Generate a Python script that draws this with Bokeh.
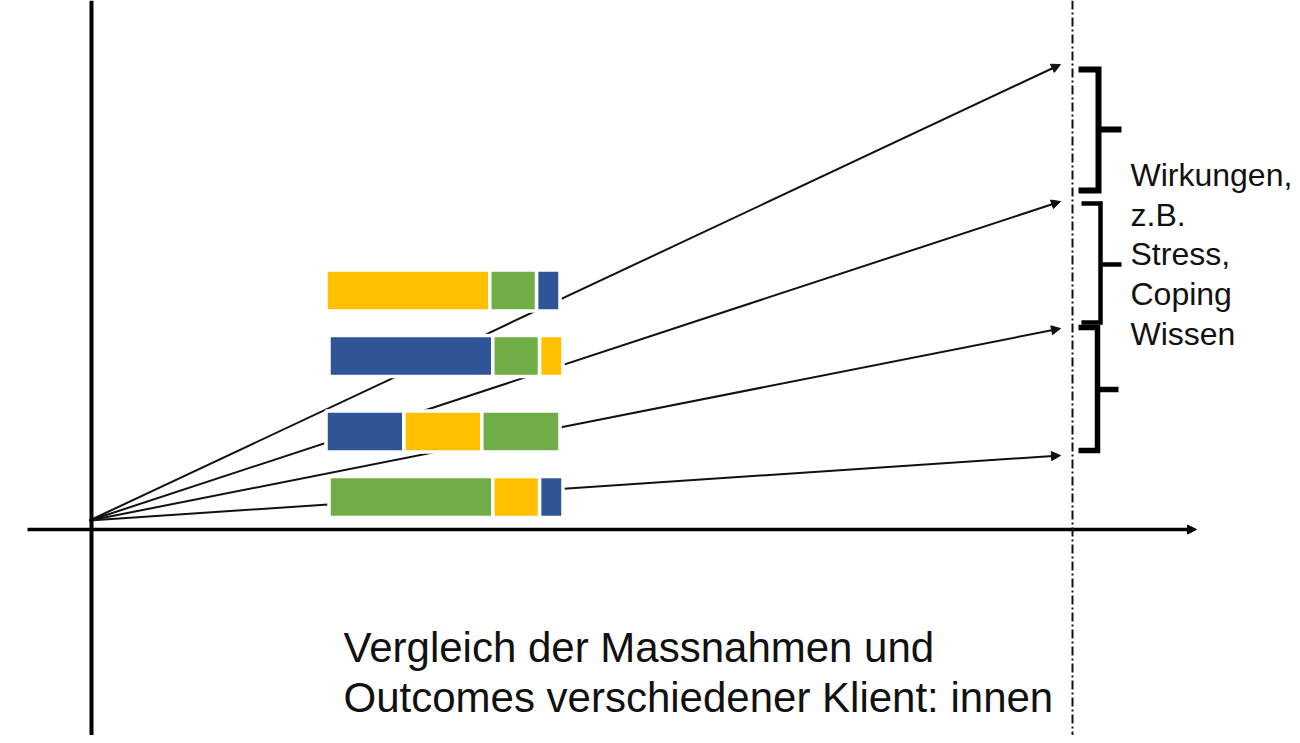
from bokeh.plotting import figure
from bokeh.models import Range1d, Arrow, NormalHead, Span, ColumnDataSource
from bokeh.core.properties import value
from bokeh.embed import file_html
from bokeh.resources import INLINE

# ---------------- data ----------------
clients = ["Klient:in 1", "Klient:in 2", "Klient:in 3", "Klient:in 4"]
measure_names = ["Massnahme A", "Massnahme B", "Massnahme C"]
measure_colors = ["#FFC000", "#70AD47", "#2F5597"]

# order of measures in each client's bar (index into measure_names) and their shares (%)
client1_order = [0, 1, 2]
client1_values = [70, 20, 10]
client2_order = [2, 1, 0]
client2_values = [70, 20, 10]
client3_order = [2, 0, 1]
client3_values = [33.3, 33.3, 33.4]
client4_order = [1, 0, 2]
client4_values = [70, 20, 10]

# outcome level reached by each arrow (screen-like y units, top = small)
outcome_levels = [64, 201, 328, 455]

right_label_lines = ["Wirkungen,", "z.B.", "Stress,", "Coping", "Wissen"]
bottom_label_lines = ["Vergleich der Massnahmen und", "Outcomes verschiedener Klient: innen"]

# ---------------- layout ----------------
W, H = 1292, 735
FONT = "Liberation Sans"
PX_PER_PCT = 2.34
bar_x0 = [325.5, 328.5, 325.5, 328.5]
bar_yc = [290, 355.5, 431, 496.5]
bar_h = 41
origin = (89, 520)
arrow_tip_x = 1060

p = figure(width=W, height=H, x_range=Range1d(0, W), y_range=Range1d(H, 0),
           output_backend="svg", toolbar_location=None, min_border=0,
           x_axis_location=None, y_axis_location=None)
p.grid.visible = False
p.outline_line_color = None
p.background_fill_color = "white"

# fan of arrows (below bars)
fan_src = ColumnDataSource(dict(
    xs=[origin[0]] * len(outcome_levels), ys=[origin[1]] * len(outcome_levels),
    xe=[arrow_tip_x] * len(outcome_levels), ye=outcome_levels))
fan = Arrow(x_start="xs", y_start="ys", x_end="xe", y_end="ye", source=fan_src,
            line_color="#111111", line_width=2, level="underlay",
            end=NormalHead(size=9, fill_color="#111111", line_color="#111111", line_width=1))
p.add_layout(fan)

# horizontal axis with arrow
p.add_layout(Arrow(x_start=27, y_start=529, x_end=1196, y_end=529, line_color="black",
                   line_width=3.5,
                   end=NormalHead(size=9, fill_color="black", line_color="black", line_width=1)))
# vertical axis
p.add_layout(Span(location=91, dimension="height", line_color="black", line_width=4))
# dash-dot separator
p.add_layout(Span(location=1072, dimension="height", line_color="#111111", line_width=2,
                  line_dash="9 3 2 3"))

# stacked bars
orders = [client1_order, client2_order, client3_order, client4_order]
values = [client1_values, client2_values, client3_values, client4_values]
left, right, yc, col = [], [], [], []
for i in range(len(clients)):
    cum = 0.0
    for m, v in zip(orders[i], values[i]):
        left.append(bar_x0[i] + cum * PX_PER_PCT)
        cum += v
        right.append(bar_x0[i] + cum * PX_PER_PCT)
        yc.append(bar_yc[i])
        col.append(measure_colors[m])
bars = ColumnDataSource(dict(left=left, right=right, y=yc, color=col))
p.hbar(y="y", left="left", right="right", height=bar_h, fill_color="color",
       line_color="white", line_width=3.5, source=bars)

# brackets
brackets = [
    dict(xl=1078, xv=1098, yt=69, yb=190, ym=129, xt=1121, lw=6),
    dict(xl=1081, xv=1100, yt=203, yb=322, ym=264, xt=1121, lw=4.5),
    dict(xl=1078, xv=1097, yt=327, yb=450, ym=389, xt=1118, lw=5.5),
]
for b in brackets:
    p.line([b["xl"], b["xv"], b["xv"], b["xl"]], [b["yt"], b["yt"], b["yb"], b["yb"]],
           line_color="black", line_width=b["lw"], line_join="miter")
    p.line([b["xv"], b["xt"]], [b["ym"], b["ym"]], line_color="black", line_width=b["lw"])

# right-hand label
p.text(x=[1130] * len(right_label_lines), y=[174, 214, 253, 293, 333], text=right_label_lines,
       text_font=value(FONT), text_font_size=value("32px"), text_color="#111111",
       text_baseline="alphabetic", text_align="left")

# bottom label
p.text(x=[343, 343], y=[647, 697], text=bottom_label_lines,
       text_font=value(FONT), text_font_size=value("42px"), text_color="#111111",
       text_baseline="alphabetic", text_align="left")

open("out.html", "w").write(file_html(p, INLINE))
